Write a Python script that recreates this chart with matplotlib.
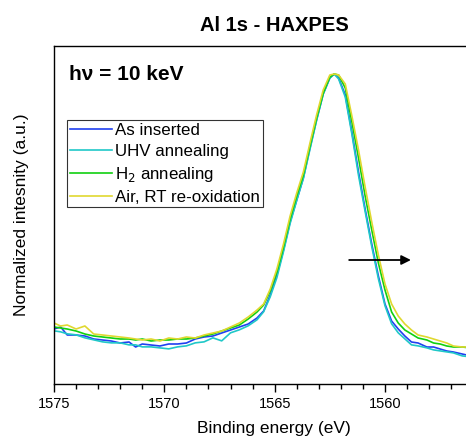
import matplotlib
matplotlib.use('Agg')
import matplotlib.pyplot as plt
import numpy as np

plt.rcParams['font.family'] = ['Liberation Sans', 'DejaVu Sans']

# binding energy grid (eV)
energy = [1575.2, 1575.0, 1574.7, 1574.4, 1574.0, 1573.6, 1573.2, 1572.8, 1572.4, 1572.0,
          1571.6, 1571.3, 1571.0, 1570.6, 1570.2, 1569.8, 1569.4, 1569.0, 1568.6, 1568.2,
          1567.8, 1567.4, 1567.0, 1566.6, 1566.2, 1565.8, 1565.5, 1565.2, 1564.9, 1564.6,
          1564.3, 1564.0, 1563.7, 1563.4, 1563.1, 1562.8, 1562.5, 1562.3, 1562.1, 1561.8,
          1561.5, 1561.2, 1560.9, 1560.6, 1560.3, 1560.0, 1559.7, 1559.4, 1559.1, 1558.8,
          1558.5, 1558.1, 1557.8, 1557.5, 1557.2, 1556.9, 1556.5, 1556.1, 1555.7]

# raw intensities (arb. units), normalized below
as_inserted = [53, 55, 57, 49, 49, 48, 45, 44, 43, 41,
               42, 37, 40, 39, 38, 40, 40, 41, 45, 47,
               48, 51, 54, 57, 60, 66, 73, 89, 109, 134,
               162, 184, 206, 236, 264, 290, 306, 310, 306, 289,
               252, 212, 175, 140, 108, 80, 63, 55, 48, 42,
               41, 37, 37, 35, 33, 32, 30, 28, 27]
uhv_anneal = [52, 53, 52, 50, 49, 46, 44, 42, 41, 41,
              39, 39, 37, 37, 36, 35, 37, 38, 41, 42,
              46, 43, 51, 54, 58, 64, 72, 87, 106, 132,
              160, 183, 205, 234, 263, 289, 305, 309, 304, 286,
              249, 208, 172, 137, 105, 78, 60, 51, 45, 39,
              38, 36, 34, 33, 32, 31, 28, 27, 26]
h2_anneal = [57, 57, 56, 55, 53, 50, 48, 47, 46, 45,
             45, 44, 45, 43, 44, 44, 45, 45, 46, 48,
             50, 53, 56, 59, 65, 72, 79, 93, 112, 137,
             165, 188, 209, 238, 266, 291, 307, 310, 309, 296,
             262, 226, 188, 154, 121, 94, 72, 61, 54, 50,
             46, 44, 41, 40, 38, 37, 37, 36, 36]
air_reox = [63, 61, 58, 59, 55, 58, 50, 49, 48, 47,
            46, 45, 44, 45, 43, 46, 45, 47, 46, 49,
            51, 53, 57, 61, 67, 74, 80, 95, 115, 140,
            168, 191, 212, 241, 269, 294, 309, 310, 309, 300,
            268, 234, 197, 162, 129, 100, 80, 68, 60, 54,
            49, 47, 45, 43, 41, 38, 37, 37, 37]

labels = ['As inserted', 'UHV annealing', 'H$_2$ annealing', 'Air, RT re-oxidation']
colors = ['#2040f0', '#20c8c8', '#10d010', '#e0d830']

fig = plt.figure(figsize=(4.66, 4.38), dpi=100)
ax = fig.add_axes([54 / 466, 54 / 438, 440 / 466, 338 / 438])

for ys, lab, c in zip([as_inserted, uhv_anneal, h2_anneal, air_reox], labels, colors):
    ys = np.array(ys, dtype=float)
    ax.plot(energy, ys / ys.max(), color=c, lw=1.2, label=lab)

ax.set_xlim(1575, 1555.06)
ax.set_ylim(0, 338 / 310)
ax.set_xticks([1575, 1570, 1565, 1560])
ax.set_xticks(np.arange(1556, 1576, 1), minor=True)
ax.set_yticks([])
ax.tick_params(axis='x', which='major', direction='out', length=6, width=1, labelsize=10.5)
ax.tick_params(axis='x', which='minor', direction='out', length=3.5, width=1)
for s in ax.spines.values():
    s.set_linewidth(1)
ax.spines['right'].set_visible(False)

ax.set_xlabel('Binding energy (eV)', fontsize=12.5, labelpad=7)
ax.set_ylabel('Normalized intesnity (a.u.)', fontsize=12.5, labelpad=18)
ax.set_title('Al 1s - HAXPES', fontsize=14.5, fontweight='bold', pad=11)

ax.text(0.033, 0.915, 'h\u03bd = 10 keV', transform=ax.transAxes, fontsize=15,
        fontweight='bold', va='center', ha='left')

# peak shift arrow
ax.annotate('', xy=(1558.7, 124 / 310), xytext=(1561.75, 124 / 310),
            arrowprops=dict(arrowstyle='-|>', color='black', lw=1.3,
                            mutation_scale=14))

leg = ax.legend(loc='upper left', bbox_to_anchor=(13 / 440, 1 - 74 / 338),
                fontsize=12.2, frameon=True, fancybox=False, edgecolor='black',
                handlelength=2.5, handletextpad=0.2, labelspacing=0.36,
                borderpad=0.15, borderaxespad=0)
leg.get_frame().set_linewidth(0.8)

fig.savefig('out.png', dpi=100)
